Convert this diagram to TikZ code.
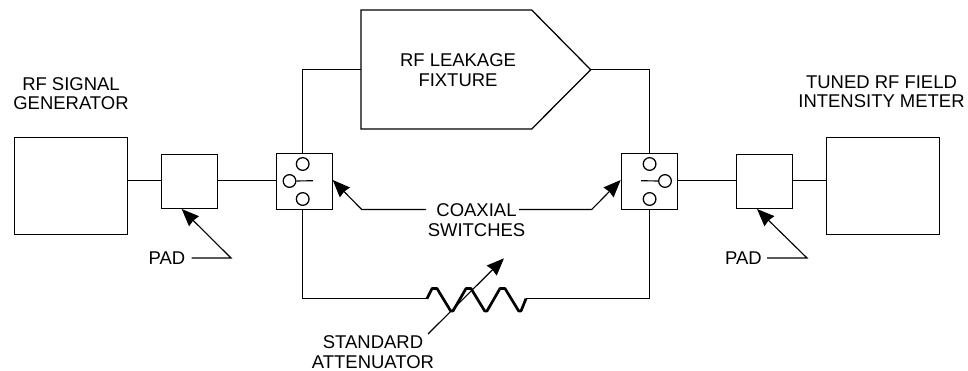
\documentclass[tikz,border=0pt]{standalone}
\usepackage{fontspec}
\setmainfont{Liberation Sans}
\usetikzlibrary{arrows.meta}
\tikzset{
 x=0.75pt,y=-0.75pt,
 wire/.style={line width=0.85pt,line join=miter},
 boxn/.style={draw,line width=0.95pt,inner sep=0pt,anchor=north west},
 contact/.style={circle,draw,fill=white,line width=0.95pt,minimum size=9.5pt,inner sep=0pt},
 lab/.style={font=\fontsize{13.85pt}{14.6pt}\selectfont,align=center,inner sep=0pt},
 pointer/.style={line width=0.85pt,-{Stealth[inset=0.8pt,length=13pt,width=10.5pt]}},
}
\begin{document}
\begin{tikzpicture}
\useasboundingbox (0,0) rectangle (968,371);
\node[boxn,minimum width=85pt,minimum height=72.75pt] (gen) at (13.5,137) {};
\node[boxn,minimum width=42.15pt,minimum height=40.5pt] (padl) at (160.7,154) {};
\node[boxn,minimum width=42.25pt,minimum height=42pt] (swl) at (275.7,153) {};
\node[boxn,minimum width=42.25pt,minimum height=42pt] (swr) at (620.7,153) {};
\node[boxn,minimum width=42.25pt,minimum height=40.5pt] (padr) at (735.7,154) {};
\node[boxn,minimum width=84.75pt,minimum height=72.75pt] (met) at (826,137) {};
\coordinate (wy) at (0,180.7);
\draw[wire] (gen.east |- wy) -- (padl.west |- wy);
\draw[wire] (padl.east |- wy) -- (swl.west |- wy);
\draw[wire] (swr.east |- wy) -- (padr.west |- wy);
\draw[wire] (padr.east |- wy) -- (met.west |- wy);
% fixture
\coordinate (fixL) at (361,69.7);
\coordinate (fixR) at (590.7,69.7);
\node[inner sep=0pt,minimum size=0pt] (fix) at (361,10) {};
\draw[line width=0.95pt,line join=miter] (fix.center) -- (531.7,10) -- (fixR) -- (531.7,129) -- (361,129) -- cycle;
\draw[wire] (swl.north -| 302.7,0) -- (302.7,69.7) -- (fixL);
\draw[wire] (fixR) -- (649.6,69.7) -- (swr.north -| 649.6,0);
% switches
\node[contact] (la) at (302.7,164) {};
\node[contact] (lb) at (289.5,181) {};
\node[contact] (lc) at (302.7,199) {};
\draw[wire] (lb.east) -- (313,180.7);
\node[contact] (ra) at (649.6,164) {};
\node[contact] (rb) at (665,181) {};
\node[contact] (rc) at (649.6,199) {};
\draw[wire] (rb.west) -- (641,180.7);
% attenuator
\coordinate (atl) at (427,298.7);
\coordinate (atr) at (526,298.7);
\draw[wire] (swl.south -| 302.7,0) -- (302.7,298.7) -- (atl);
\draw[wire] (atr) -- (649.6,298.7) -- (swr.south -| 649.6,0);
\draw[line width=2pt,line join=round] (atl) -- (432,288.5) -- (437,288.5) -- (450.7,311) -- (453,311) -- (466,288.5) -- (471,288.5) -- (484.7,311) -- (487,311) -- (500,288.5) -- (505,288.5) -- (518.7,311) -- (521,311) -- (atr);
% labels
\node[lab] (tg) at (71,93.5) {RF SIGNAL\\GENERATOR};
\node[lab] (tm) at (881.5,91.5) {TUNED RF FIELD\\INTENSITY METER};
\node[lab] (tf) at (458,70) {RF LEAKAGE\\FIXTURE};
\node[lab] (tc) at (476.5,220) {COAXIAL\\SWITCHES};
\node[lab] (ts) at (373,352) {STANDARD\\ATTENUATOR};
\node[lab] (pl) at (167,258) {PAD};
\node[lab] (pr) at (743.5,258) {PAD};
% pointers
\coordinate (cl) at (426,209.5);
\coordinate (cr) at (519,209.5);
\draw[pointer] (cl) -- (361.7,209.5) -- (332.7,180);
\draw[pointer] (cr) -- (591.7,209.5) -- (620.7,180);
\draw[pointer] (191.7,258) -- (231,258) -- (181.7,209);
\draw[pointer] (767,258) -- (807,258) -- (757,209);
\coordinate (sa) at (428,334);
\draw[pointer] (sa) -- (504,258.3);
\end{tikzpicture}
\end{document}
